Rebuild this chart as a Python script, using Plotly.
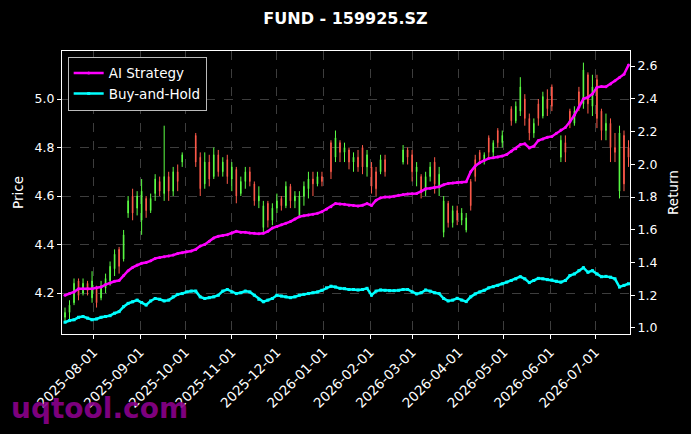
import pandas as pd
import plotly.graph_objects as go

# sample dates (every 3 calendar days) for the candles and the two return curves
dates = pd.date_range("2025-07-13", periods=126, freq="3D")

opens = [4.12, 4.15, 4.24, 4.19, 4.24, 4.21, 4.25, 4.16, 4.23, 4.26,
         4.31, 4.36, 4.31, 4.44, 4.58, 4.53, 4.60, 4.62, 4.54, 4.59,
         4.67, 4.62, 4.68, 4.62, 4.70, 4.66, 4.77, None, None, 4.74,
         4.63, 4.74, 4.67, 4.77, 4.70, 4.74, 4.68, 4.72, 4.60, 4.66,
         4.70, 4.66, 4.58, 4.60, 4.56, 4.50, 4.55, 4.58, 4.56, 4.64,
         4.58, 4.60, 4.60, 4.64, 4.67, 4.65, 4.68, 4.66, None, 4.70,
         4.84, 4.78, 4.80, 4.74, 4.76, 4.72, 4.72, 4.77, 4.64, 4.63,
         4.75, 4.70, None, None, None, 4.79, 4.76, 4.70, 4.72, 4.62,
         4.68, 4.72, 4.65, 4.69, 4.58, 4.49, 4.54, 4.50, 4.53, 4.51,
         4.56, 4.68, 4.75, 4.77, 4.78, 4.82, 4.82, 4.85, None, 4.91,
         4.97, 5.05, 4.92, 4.86, 4.90, 4.92, 5.01, 4.96, 4.97, None,
         4.83, 4.78, 4.90, 4.95, 4.97, 5.12, 4.98, 5.05, 4.92, 4.87,
         4.90, 4.80, 4.78, 4.86, 4.65, 4.76]
highs = [4.14, 4.17, 4.26, 4.26, 4.26, 4.25, 4.29, 4.23, 4.25, 4.28,
         4.33, 4.38, 4.39, 4.46, 4.60, 4.63, 4.62, 4.67, 4.60, 4.61,
         4.69, 4.68, 4.89, 4.70, 4.72, 4.73, 4.78, None, None, 4.86,
         4.78, 4.78, 4.77, 4.80, 4.79, 4.76, 4.77, 4.74, 4.72, 4.68,
         4.72, 4.72, 4.66, 4.64, 4.58, 4.58, 4.57, 4.61, 4.60, 4.66,
         4.65, 4.62, 4.62, 4.66, 4.70, 4.70, 4.70, 4.70, None, 4.83,
         4.87, 4.83, 4.82, 4.80, 4.78, 4.79, 4.81, 4.79, 4.74, 4.72,
         4.77, 4.77, None, None, None, 4.81, 4.80, 4.79, 4.74, 4.69,
         4.70, 4.74, 4.76, 4.72, 4.60, 4.58, 4.56, 4.56, 4.55, 4.53,
         4.67, 4.77, 4.79, 4.78, 4.85, 4.83, 4.88, 4.87, None, 4.97,
         4.99, 5.09, 5.02, 4.94, 4.92, 5.00, 5.03, 5.04, 5.06, None,
         4.85, 4.85, 4.96, 4.97, 5.05, 5.15, 5.11, 5.10, 5.10, 4.96,
         4.94, 4.92, 4.86, 4.89, 4.87, 4.83]
lows = [4.08, 4.09, 4.15, 4.17, 4.19, 4.19, 4.16, 4.14, 4.17, 4.20,
        4.23, 4.27, 4.28, 4.33, 4.51, 4.50, 4.52, 4.44, 4.51, 4.53,
        4.58, 4.60, 4.58, 4.58, 4.60, 4.62, 4.72, None, None, 4.72,
        4.60, 4.63, 4.64, 4.67, 4.68, 4.68, 4.65, 4.62, 4.57, 4.60,
        4.63, 4.64, 4.56, 4.55, 4.45, 4.47, 4.48, 4.53, 4.54, 4.55,
        4.55, 4.55, 4.51, 4.56, 4.59, 4.60, 4.64, 4.64, None, 4.67,
        4.74, 4.74, 4.74, 4.71, 4.70, 4.70, 4.69, 4.68, 4.61, 4.60,
        4.69, 4.68, None, None, None, 4.73, 4.73, 4.66, 4.64, 4.59,
        4.60, 4.66, 4.61, 4.60, 4.43, 4.47, 4.47, 4.48, 4.48, 4.45,
        4.54, 4.66, 4.74, 4.73, 4.76, 4.76, 4.80, 4.80, None, 4.89,
        4.90, 4.93, 4.89, 4.83, 4.84, 4.89, 4.92, 4.93, 4.95, None,
        4.74, 4.74, 4.88, 4.89, 4.95, 4.96, 4.94, 4.93, 4.88, 4.83,
        4.83, 4.74, 4.74, 4.59, 4.62, 4.72]
closes = [4.10, 4.12, 4.16, 4.25, 4.20, 4.24, 4.18, 4.22, 4.18, 4.22,
          4.25, 4.30, 4.38, 4.34, 4.53, 4.60, 4.55, 4.50, 4.59, 4.54,
          4.61, 4.66, 4.61, 4.68, 4.62, 4.70, 4.74, None, None, 4.85,
          4.76, 4.65, 4.74, 4.68, 4.77, 4.70, 4.75, 4.67, 4.71, 4.61,
          4.66, 4.70, 4.65, 4.58, 4.47, 4.57, 4.50, 4.55, 4.59, 4.56,
          4.64, 4.58, 4.52, 4.60, 4.63, 4.67, 4.65, 4.68, None, 4.82,
          4.76, 4.82, 4.78, 4.79, 4.74, 4.76, 4.80, 4.72, 4.72, 4.70,
          4.70, 4.75, None, None, None, 4.74, 4.79, 4.77, 4.70, 4.68,
          4.62, 4.68, 4.74, 4.64, 4.45, 4.57, 4.49, 4.54, 4.50, 4.46,
          4.66, 4.75, 4.78, 4.75, 4.84, 4.78, 4.87, 4.82, None, 4.96,
          4.91, 4.95, 5.00, 4.92, 4.86, 4.98, 4.93, 5.00, 5.05, None,
          4.76, 4.82, 4.95, 4.90, 5.03, 4.98, 5.10, 4.97, 5.08, 4.95,
          4.87, 4.90, 4.80, 4.62, 4.85, 4.80]

ai_strategy = [1.20, 1.21, 1.22, 1.24, 1.24, 1.24, 1.24, 1.245, 1.25, 1.265,
               1.275, 1.285, 1.29, 1.32, 1.35, 1.37, 1.385, 1.395, 1.40, 1.41,
               1.425, 1.43, 1.435, 1.44, 1.445, 1.455, 1.46, 1.465, 1.47, 1.48,
               1.50, 1.51, 1.53, 1.55, 1.56, 1.565, 1.57, 1.58, 1.59, 1.585,
               1.585, 1.58, 1.578, 1.575, 1.578, 1.59, 1.61, 1.62, 1.63, 1.64,
               1.65, 1.665, 1.68, 1.685, 1.69, 1.695, 1.70, 1.71, 1.725, 1.74,
               1.76, 1.758, 1.755, 1.75, 1.748, 1.745, 1.75, 1.76, 1.748, 1.78,
               1.795, 1.80, 1.80, 1.805, 1.81, 1.815, 1.818, 1.82, 1.822, 1.835,
               1.85, 1.853, 1.86, 1.863, 1.875, 1.883, 1.885, 1.888, 1.89, 1.893,
               1.955, 1.99, 2.01, 2.025, 2.036, 2.04, 2.045, 2.05, 2.06, 2.08,
               2.095, 2.12, 2.125, 2.10, 2.11, 2.145, 2.155, 2.165, 2.17, 2.19,
               2.21, 2.225, 2.26, 2.30, 2.35, 2.40, 2.41, 2.43, 2.47, 2.475,
               2.474, 2.49, 2.51, 2.53, 2.55, 2.606]
buy_hold = [1.035, 1.045, 1.05, 1.065, 1.07, 1.06, 1.05, 1.055, 1.065, 1.07,
            1.075, 1.09, 1.10, 1.13, 1.15, 1.16, 1.17, 1.155, 1.14, 1.165,
            1.18, 1.175, 1.165, 1.17, 1.19, 1.205, 1.21, 1.22, 1.225, 1.225,
            1.19, 1.18, 1.185, 1.19, 1.20, 1.225, 1.235, 1.22, 1.21, 1.215,
            1.225, 1.22, 1.20, 1.175, 1.16, 1.17, 1.18, 1.20, 1.195, 1.19,
            1.185, 1.19, 1.20, 1.205, 1.21, 1.215, 1.22, 1.23, 1.245, 1.255,
            1.25, 1.242, 1.24, 1.235, 1.235, 1.232, 1.235, 1.242, 1.20, 1.225,
            1.232, 1.23, 1.228, 1.228, 1.23, 1.235, 1.235, 1.22, 1.208, 1.215,
            1.232, 1.225, 1.215, 1.21, 1.18, 1.165, 1.17, 1.181, 1.17, 1.161,
            1.19, 1.208, 1.22, 1.23, 1.245, 1.252, 1.26, 1.27, 1.28, 1.29,
            1.30, 1.313, 1.30, 1.277, 1.29, 1.303, 1.30, 1.295, 1.293, 1.285,
            1.28, 1.29, 1.32, 1.33, 1.35, 1.368, 1.34, 1.35, 1.33, 1.313,
            1.315, 1.31, 1.30, 1.25, 1.26, 1.27]

month_ticks = ["2025-08-01", "2025-09-01", "2025-10-01", "2025-11-01",
               "2025-12-01", "2026-01-01", "2026-02-01", "2026-03-01",
               "2026-04-01", "2026-05-01", "2026-06-01", "2026-07-01"]

FONT = "DejaVu Sans"
GRID = "#3d3d3d"

fig = go.Figure()

fig.add_trace(go.Candlestick(
    x=dates, open=opens, high=highs, low=lows, close=closes,
    increasing=dict(line=dict(color="#ff5a4a", width=1), fillcolor="#ff5a4a"),
    decreasing=dict(line=dict(color="#5cff45", width=1), fillcolor="#5cff45"),
    whiskerwidth=0, showlegend=False, name="Price",
))

fig.add_trace(go.Scatter(
    x=dates, y=ai_strategy, yaxis="y2", name="AI Strategy",
    mode="lines+markers", line=dict(color="#ff00ff", width=2.5),
    marker=dict(symbol="circle", size=3, color="#ff00ff"),
))
fig.add_trace(go.Scatter(
    x=dates, y=buy_hold, yaxis="y2", name="Buy-and-Hold",
    mode="lines+markers", line=dict(color="#00ffff", width=2.5),
    marker=dict(symbol="square", size=3, color="#00ffff"),
))

axis_common = dict(
    showline=True, linecolor="white", linewidth=1,
    ticks="outside", ticklen=4, tickcolor="white",
    tickfont=dict(family=FONT, size=12.5, color="white"),
    zeroline=False,
)

fig.update_layout(
    width=691, height=434,
    margin=dict(l=62, r=61, t=51, b=100),
    paper_bgcolor="black", plot_bgcolor="black",
    font=dict(family=FONT, color="white"),
    boxgap=0.8,
    title=dict(text="<b>FUND - 159925.SZ</b>", x=0.5, xanchor="center",
               y=1 - 18 / 434, yanchor="middle", yref="container",
               font=dict(family=FONT, size=16, color="white")),
    xaxis=dict(
        **axis_common, mirror=True, type="date",
        range=["2025-07-11", "2026-07-24"],
        tickvals=month_ticks, ticktext=month_ticks, tickangle=-45,
        showgrid=True, gridcolor=GRID, griddash="dash", gridwidth=0.8,
        rangeslider=dict(visible=False),
    ),
    yaxis=dict(
        **axis_common, mirror=True, range=[4.031, 5.198],
        tickvals=[4.2, 4.4, 4.6, 4.8, 5.0], tickformat=".1f",
        showgrid=True, gridcolor=GRID, griddash="dash", gridwidth=0.8,
        title=dict(text="Price", standoff=7,
                   font=dict(family=FONT, size=13.5, color="white")),
        automargin=False,
    ),
    yaxis2=dict(
        **axis_common, overlaying="y", side="right", range=[0.963, 2.692],
        tickvals=[1.0, 1.2, 1.4, 1.6, 1.8, 2.0, 2.2, 2.4, 2.6], tickformat=".1f",
        showgrid=False,
        title=dict(text="Return", standoff=12,
                   font=dict(family=FONT, size=13.5, color="white")),
        automargin=False,
    ),
    legend=dict(
        x=0.01, y=0.98, xanchor="left", yanchor="top",
        bgcolor="black", bordercolor="#bbbbbb", borderwidth=1,
        font=dict(family=FONT, size=13.5, color="white"),
        itemwidth=30, tracegroupgap=0,
    ),
    annotations=[dict(
        text="<b>uqtool.com</b>", xref="paper", yref="paper",
        x=-0.094, y=-0.262, xanchor="left", yanchor="middle", showarrow=False,
        font=dict(family=FONT, size=28, color="rgba(139,0,139,0.92)"),
    )],
)
fig.update_xaxes(tickfont=dict(size=13.5))

# the page body has a default 8px margin; drop it so the figure sits at 0,0
fig.write_html("out.html", config={"displayModeBar": False},
               post_script="document.body.style.margin='0';")
